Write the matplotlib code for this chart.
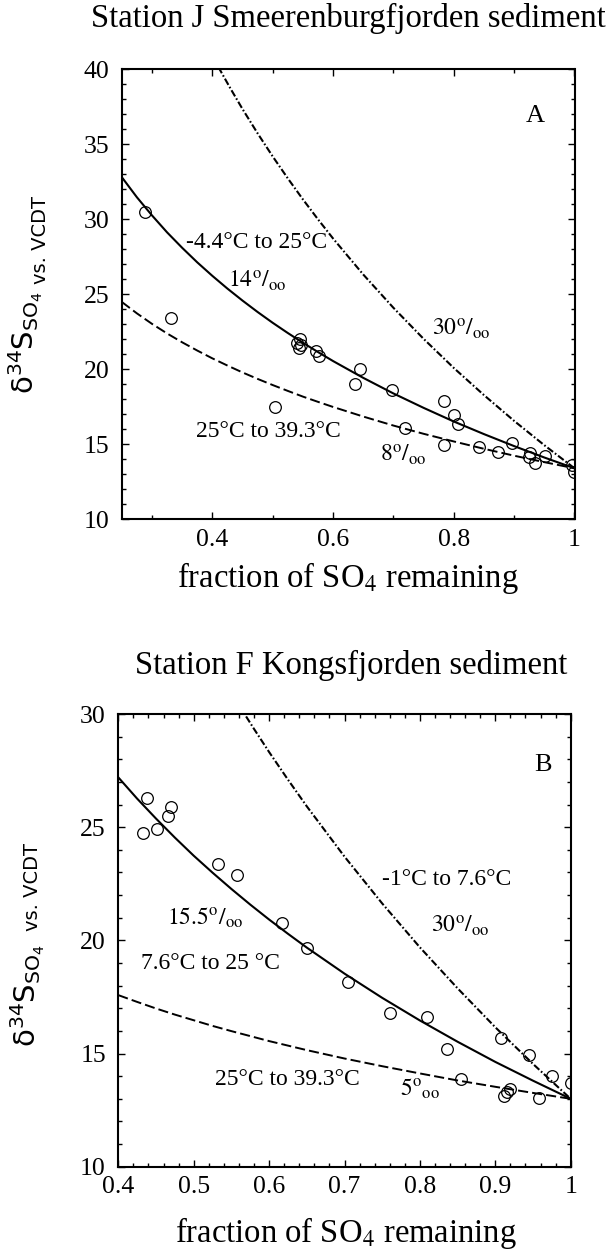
import matplotlib
matplotlib.use("Agg")
import matplotlib.pyplot as plt
from matplotlib.ticker import MultipleLocator

plt.rcParams['font.family'] = ['Liberation Serif', 'DejaVu Serif']
plt.rcParams['mathtext.fontset'] = 'stix'

# ---- panel A : Station J Smeerenburgfjorden ----
fA_obs = [0.2885, 0.332, 0.503, 0.540, 0.543, 0.546, 0.547, 0.571, 0.577,
          0.636, 0.645, 0.697, 0.720, 0.784, 0.784, 0.801, 0.807, 0.841,
          0.873, 0.897, 0.925, 0.926, 0.935, 0.951, 0.996, 1.0]
dA_obs = [30.5, 23.45, 17.5, 21.75, 21.45, 22.05, 21.6, 21.2, 20.9,
          19.0, 20.05, 18.65, 16.1, 17.9, 14.95, 16.95, 16.35, 14.8,
          14.5, 15.1, 14.15, 14.45, 13.75, 14.2, 13.65, 13.15]

# model curves (14, 8 and 30 permil)
fA_curve = [0.25, 0.275, 0.30, 0.325, 0.35, 0.375, 0.40, 0.425, 0.45, 0.475,
            0.50, 0.525, 0.55, 0.575, 0.60, 0.65, 0.70, 0.75, 0.80, 0.85,
            0.90, 0.95, 1.00]
dA_14 = [32.81, 31.47, 30.26, 29.13, 28.10, 27.13, 26.23, 25.38, 24.58, 23.82,
         23.10, 22.42, 21.77, 21.15, 20.55, 19.43, 18.39, 17.43, 16.52, 15.68,
         14.88, 14.12, 13.40]
dA_8 = [24.49, 23.73, 23.03, 22.39, 21.80, 21.25, 20.73, 20.25, 19.79, 19.36,
        18.95, 18.56, 18.18, 17.83, 17.49, 16.85, 16.25, 15.70, 15.19, 14.70,
        14.24, 13.81, 13.40]
fA_30 = [0.41, 0.43, 0.45, 0.475, 0.50, 0.525, 0.55, 0.575, 0.60, 0.65,
         0.70, 0.75, 0.80, 0.85, 0.90, 0.95, 1.00]
dA_30 = [40.15, 38.72, 37.35, 35.73, 34.19, 32.73, 31.33, 30.00, 28.72, 26.32,
         24.10, 22.03, 20.09, 18.28, 16.56, 14.94, 13.40]

# ---- panel B : Station F Kongsfjorden ----
fB_obs = [0.4376, 0.433, 0.451, 0.4655, 0.470, 0.532, 0.557, 0.6166, 0.650,
          0.704, 0.761, 0.809, 0.836, 0.855, 0.907, 0.911, 0.915, 0.919,
          0.945, 0.958, 0.975, 1.0]
dB_obs = [26.28, 24.76, 24.92, 25.51, 25.88, 23.39, 22.89, 20.78, 19.65,
          18.18, 16.78, 16.6, 15.21, 13.87, 15.7, 13.12, 13.3, 13.45,
          14.92, 13.02, 14.01, 13.69]

# model curves (15.5, 5 and 30 permil)
fB_curve = [0.40, 0.425, 0.45, 0.475, 0.50, 0.525, 0.55, 0.575, 0.60, 0.625,
            0.65, 0.70, 0.75, 0.80, 0.85, 0.90, 0.95, 1.00]
dB_155 = [27.20, 26.26, 25.38, 24.54, 23.74, 22.99, 22.27, 21.58, 20.92, 20.29,
          19.68, 18.53, 17.46, 16.46, 15.52, 14.63, 13.80, 13.00]
dB_5 = [17.58, 17.28, 16.99, 16.72, 16.47, 16.22, 15.99, 15.77, 15.55, 15.35,
        15.15, 14.78, 14.44, 14.12, 13.81, 13.53, 13.26, 13.00]
fB_30 = [0.56, 0.58, 0.60, 0.625, 0.65, 0.70, 0.75, 0.80, 0.85, 0.90, 0.95, 1.00]
dB_30 = [30.39, 29.34, 28.32, 27.10, 25.92, 23.70, 21.63, 19.69, 17.88, 16.16,
         14.54, 13.00]

xticksA = [0.4, 0.6, 0.8, 1.0]
xlabelsA = ['0.4', '0.6', '0.8', '1']
yticksA = [10, 15, 20, 25, 30, 35, 40]
xticksB = [0.4, 0.5, 0.6, 0.7, 0.8, 0.9, 1.0]
xlabelsB = ['0.4', '0.5', '0.6', '0.7', '0.8', '0.9', '1']
yticksB = [10, 15, 20, 25, 30]

W, H = 612, 1251
fig = plt.figure(figsize=(W / 100, H / 100), dpi=100)

def px(x, y):
    return x / W, 1 - y / H

dash = (0, (5.2, 2.1))
dashdot = (0, (3.4, 1.1, 0.8, 1.1))


def style(ax, xminor, yminor):
    for s in ax.spines.values():
        s.set_linewidth(1.5)
    ax.xaxis.set_minor_locator(MultipleLocator(xminor))
    ax.yaxis.set_minor_locator(MultipleLocator(yminor))
    ax.tick_params(which='both', direction='in', top=True, right=True,
                   labelsize=18.5, width=1)
    ax.tick_params(which='major', length=5)
    ax.tick_params(which='minor', length=3)
    ax.tick_params(axis='x', pad=7)
    ax.tick_params(axis='y', pad=9)


def draw(ax, f, solid, dashed, f30, d30, fobs, dobs):
    ax.plot(f, solid, color='black', lw=1.5)
    ax.plot(f, dashed, color='black', lw=1.4, linestyle=dash)
    ax.plot(f30, d30, color='black', lw=1.5, linestyle=dashdot)
    ax.plot(fobs, dobs, 'o', mfc='none', mec='black', ms=8.4, mew=0.9)


# panel A
axA = fig.add_axes([121.8 / W, 1 - 519.3 / H, (574.5 - 121.8) / W, 450 / H])
draw(axA, fA_curve, dA_14, dA_8, fA_30, dA_30, fA_obs, dA_obs)
axA.set_xlim(0.25, 1.0)
axA.set_ylim(10, 40)
axA.set_xticks(xticksA, xlabelsA)
axA.set_yticks(yticksA)
style(axA, 0.1, 1)

# panel B
axB = fig.add_axes([118.3 / W, 1 - 1166.7 / H, (570.7 - 118.3) / W, 452.7 / H])
draw(axB, fB_curve, dB_155, dB_5, fB_30, dB_30, fB_obs, dB_obs)
axB.set_xlim(0.4, 1.0)
axB.set_ylim(10, 30)
axB.set_xticks(xticksB, xlabelsB)
axB.set_yticks(yticksB)
style(axB, 0.02, 1)

# titles and x labels
fig.text(*px(348, 27), 'Station J Smeerenburgfjorden sediment', fontsize=23.5,
         ha='center', va='baseline')
fig.text(*px(351, 674), 'Station F Kongsfjorden sediment', fontsize=23.5,
         ha='center', va='baseline')
fig.text(*px(348, 587), 'fraction of SO$_4$ remaining', fontsize=23.5,
         ha='center', va='baseline')
fig.text(*px(346, 1242), 'fraction of SO$_4$ remaining', fontsize=23.5,
         ha='center', va='baseline')

# y labels
ylab = 'δ$^{34}$S$_{\\mathrm{SO}_4}$'
fig.text(*px(26, 343), ylab, fontsize=21, rotation=90, ha='center',
         va='center', family='DejaVu Sans', math_fontfamily='dejavusans')
fig.text(*px(40, 240), 'vs. VCDT', fontsize=14, rotation=90, ha='center',
         va='center', family='DejaVu Sans')
fig.text(*px(28, 996), ylab, fontsize=21, rotation=90, ha='center',
         va='center', family='DejaVu Sans', math_fontfamily='dejavusans')
fig.text(*px(33, 887), 'vs. VCDT', fontsize=14, rotation=90, ha='center',
         va='center', family='DejaVu Sans')

# annotations
permil = r'$\mathrm{%s}^{\mathrm{o}}/_{\mathrm{oo}}$'
ann = 17
fig.text(*px(535, 122), 'A', fontsize=19, ha='center', va='baseline')
fig.text(*px(186, 248), '-4.4°C to 25°C', fontsize=ann, va='baseline')
fig.text(*px(228, 287), permil % '14', fontsize=ann, va='baseline')
fig.text(*px(432, 335), permil % '30', fontsize=ann, va='baseline')
fig.text(*px(196, 437), '25°C to 39.3°C', fontsize=ann, va='baseline')
fig.text(*px(380, 461), permil % '8', fontsize=ann, va='baseline')

fig.text(*px(543, 771), 'B', fontsize=19, ha='center', va='baseline')
fig.text(*px(382, 885), '-1°C to 7.6°C', fontsize=ann, va='baseline')
fig.text(*px(431, 932), permil % '30', fontsize=ann, va='baseline')
fig.text(*px(167, 925), permil % '15.5', fontsize=ann, va='baseline')
fig.text(*px(141, 969), '7.6°C to 25 °C', fontsize=ann, va='baseline')
fig.text(*px(215, 1085), '25°C to 39.3°C', fontsize=ann, va='baseline')
fig.text(*px(400, 1096), r'$\mathrm{5}^{\mathrm{o}}{}_{\mathrm{oo}}$',
         fontsize=ann, va='baseline')

fig.savefig('out.png', dpi=100)
